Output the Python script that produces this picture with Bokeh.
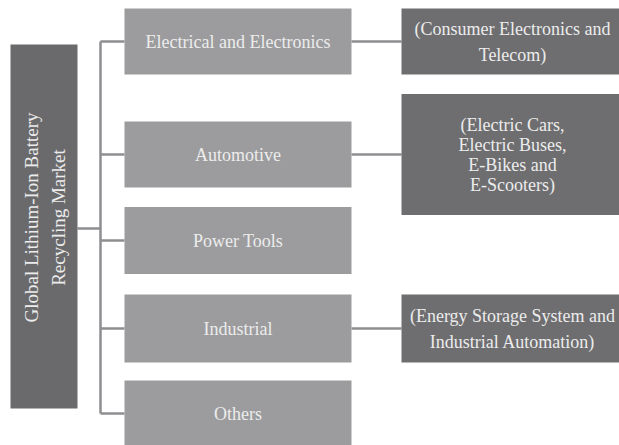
import math
from bokeh.plotting import figure
from bokeh.models import Range1d, ColumnDataSource
from bokeh.core.properties import value
from bokeh.embed import file_html
from bokeh.resources import INLINE

# ---- data (labels of the tree) ----
root_label = "Global Lithium-Ion Battery\nRecycling Market"
segments = ["Electrical and Electronics", "Automotive", "Power Tools", "Industrial", "Others"]
sub_segments = [
    "(Consumer Electronics and\nTelecom)",
    "(Electric Cars,\nElectric Buses,\nE-Bikes and\nE-Scooters)",
    None,
    "(Energy Storage System and\nIndustrial Automation)",
    None,
]

# ---- layout (pixel space of the picture, y downwards) ----
W, H = 619, 445
seg_y = [41, 154, 240, 328, 413]
seg_h = [66, 66, 67, 68, 66]
sub_h = [66, 121, None, 68, None]
root_x0, root_x1, root_y0, root_y1 = 10, 77, 44, 408
trunk_x = 100
seg_x0, seg_x1 = 124, 351
sub_x0, sub_x1 = 401, 625

FONT = value("Liberation Serif")
TXT = "#ececec"
LINE = "#8e8e90"

p = figure(width=W, height=H, output_backend="svg", toolbar_location=None,
           x_range=Range1d(0, W), y_range=Range1d(H, 0), min_border=0)
p.axis.visible = False
p.grid.visible = False
p.outline_line_color = None
p.background_fill_color = "white"
p.border_fill_color = "white"

root_cy = 228
# connectors
p.segment(x0=[root_x1], y0=[root_cy], x1=[trunk_x], y1=[root_cy], line_color=LINE, line_width=2.5)
p.segment(x0=[trunk_x], y0=[seg_y[0]], x1=[trunk_x], y1=[seg_y[-1]], line_color=LINE, line_width=2.5)
p.segment(x0=[trunk_x] * len(seg_y), y0=seg_y, x1=[seg_x0] * len(seg_y), y1=seg_y,
          line_color=LINE, line_width=2.5)
lx0, lx1, ly = [], [], []
for y, s in zip(seg_y, sub_segments):
    if s is not None:
        lx0.append(seg_x1); lx1.append(sub_x0); ly.append(y)
p.segment(x0=lx0, y0=ly, x1=lx1, y1=ly, line_color=LINE, line_width=2.5)

# root box
p.quad(left=[root_x0], right=[root_x1], top=[root_y0], bottom=[root_y1],
       fill_color="#6a6a6c", line_color=None)
p.text(x=[(root_x0 + root_x1) / 2 + 1], y=[217], text=[root_label],
       angle=math.pi / 2, text_align="center", text_baseline="middle",
       text_font=FONT, text_font_size="19px", text_color=TXT, text_line_height=1.25)

# segment boxes
seg_src = ColumnDataSource(dict(
    x=[(seg_x0 + seg_x1) / 2] * len(segments), y=seg_y,
    w=[seg_x1 - seg_x0] * len(segments), h=seg_h, t=segments))
p.rect(x="x", y="y", width="w", height="h", source=seg_src, fill_color="#9c9c9e", line_color=None)
p.text(x="x", y="y", text="t", source=seg_src, text_align="center", text_baseline="middle",
       text_font=FONT, text_font_size="18px", text_color=TXT)

# sub-segment boxes
for y, s, h in zip(seg_y, sub_segments, sub_h):
    if s is None:
        continue
    n_lines = s.count("\n") + 1
    p.rect(x=[(sub_x0 + sub_x1) / 2], y=[y], width=[sub_x1 - sub_x0], height=[h],
           fill_color="#6e6e70", line_color=None)
    p.text(x=[(sub_x0 + W) / 2 + 2], y=[y], text=[s], text_align="center", text_baseline="middle",
           text_font=FONT, text_font_size="18px", text_color=TXT,
           text_line_height=1.0 if n_lines > 2 else 1.3)

open("out.html", "w").write(file_html(p, INLINE))
